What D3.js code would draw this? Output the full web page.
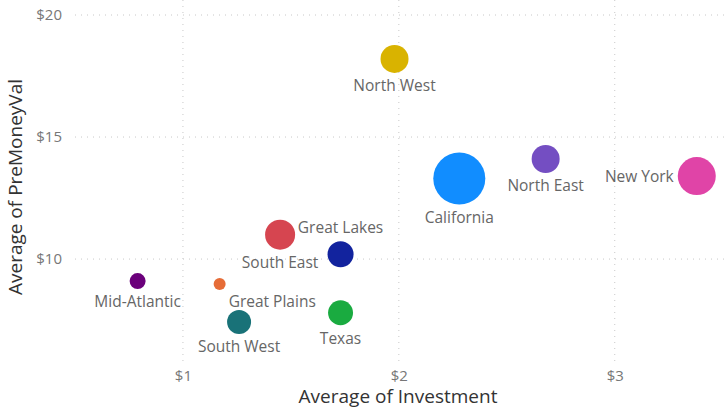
<!DOCTYPE html>
<html><head><meta charset="utf-8">
<script src="https://cdn.jsdelivr.net/npm/d3@7"></script>
<style>
html,body{margin:0;padding:0;background:#fff;}
svg{display:block;font-family:"Open Sans","Segoe UI",sans-serif;}
</style></head>
<body>
<svg id="chart" width="727" height="409"></svg>
<script>
const regions   = ["Mid-Atlantic","Great Plains","South West","South East","Great Lakes","Texas","California","North East","New York","North West"];
const investment = [0.79, 1.17, 1.26, 1.45, 1.73, 1.73, 2.28, 2.68, 3.38, 1.98];
const preMoney   = [9.1, 8.98, 7.42, 11.0, 10.2, 7.8, 13.3, 14.1, 13.4, 18.2];
const dealCount  = [64, 36, 144, 225, 169, 156, 676, 196, 361, 196];
const colors     = ["#6B007B","#E66C37","#197278","#D64550","#12239E","#1AAB40","#118DFF","#744EC2","#E044A7","#D9B300"];
const labelSide  = ["below","below-right","below","below","above","below","below","below","left","below"];
const xTicks = [1,2,3];
const yTicks = [10,15,20];

const svg = d3.select("#chart");
const W = 727, H = 409;
const x = d3.scaleLinear().domain([0.5, 3.52]).range([75, 727]);
const y = d3.scaleLinear().domain([5.66, 20]).range([365, 15]);
const r = d3.scaleSqrt().domain([0, d3.max(dealCount)]).range([0, 26]);
const fmt = d => "$" + d;

// gridlines
const grid = svg.append("g");
grid.selectAll("line.h").data(yTicks).join("line")
  .attr("x1", 75).attr("x2", W).attr("y1", d => y(d)).attr("y2", d => y(d))
  .attr("stroke", "#c8c8c8").attr("stroke-width", 1).attr("stroke-dasharray", "1,5");
grid.selectAll("line.v").data(xTicks).join("line")
  .attr("y1", 0).attr("y2", 365).attr("x1", d => x(d)).attr("x2", d => x(d))
  .attr("stroke", "#c8c8c8").attr("stroke-width", 1).attr("stroke-dasharray", "1,5");

// axes
const yAxis = svg.append("g").attr("transform", "translate(62,0)")
  .call(d3.axisLeft(y).tickValues(yTicks).tickFormat(fmt).tickSize(0).tickPadding(0));
const xAxis = svg.append("g").attr("transform", "translate(0,367)")
  .call(d3.axisBottom(x).tickValues(xTicks).tickFormat(fmt).tickSize(0).tickPadding(0));
[yAxis, xAxis].forEach(a => {
  a.select(".domain").remove();
  a.selectAll("text").attr("fill", "#777").attr("font-size", 15)
    .attr("font-family", "'Open Sans', sans-serif");
});
xAxis.selectAll("text").attr("dy", "0.9em");

// axis titles
svg.append("text").attr("x", 398).attr("y", 403).attr("text-anchor", "middle")
  .attr("font-size", 19).attr("fill", "#333").text("Average of Investment");
svg.append("text").attr("transform", "translate(22,187) rotate(-90)").attr("text-anchor", "middle")
  .attr("font-size", 19).attr("fill", "#333").text("Average of PreMoneyVal");

// bubbles
const data = regions.map((name, i) => ({name, xv: investment[i], yv: preMoney[i], n: dealCount[i], c: colors[i], side: labelSide[i]}));
const g = svg.append("g");
g.selectAll("circle").data(data).join("circle")
  .attr("cx", d => x(d.xv)).attr("cy", d => y(d.yv)).attr("r", d => r(d.n))
  .attr("fill", d => d.c);

g.selectAll("text").data(data).join("text")
  .attr("font-size", 15.5).attr("fill", "#666")
  .each(function(d) {
    const cx = x(d.xv), cy = y(d.yv), rr = r(d.n);
    const t = d3.select(this).text(d.name);
    if (d.side === "below") {
      t.attr("x", cx).attr("y", cy + rr + 6).attr("dy", "0.8em").attr("text-anchor", "middle");
    } else if (d.side === "above") {
      t.attr("x", cx).attr("y", cy - rr - 8).attr("text-anchor", "middle");
    } else if (d.side === "left") {
      t.attr("x", cx - rr - 4).attr("y", cy).attr("dy", "0.35em").attr("text-anchor", "end");
    } else if (d.side === "below-right") {
      t.attr("x", cx + rr + 3).attr("y", cy + rr + 5).attr("dy", "0.8em").attr("text-anchor", "start");
    }
  });
</script>
</body></html>
